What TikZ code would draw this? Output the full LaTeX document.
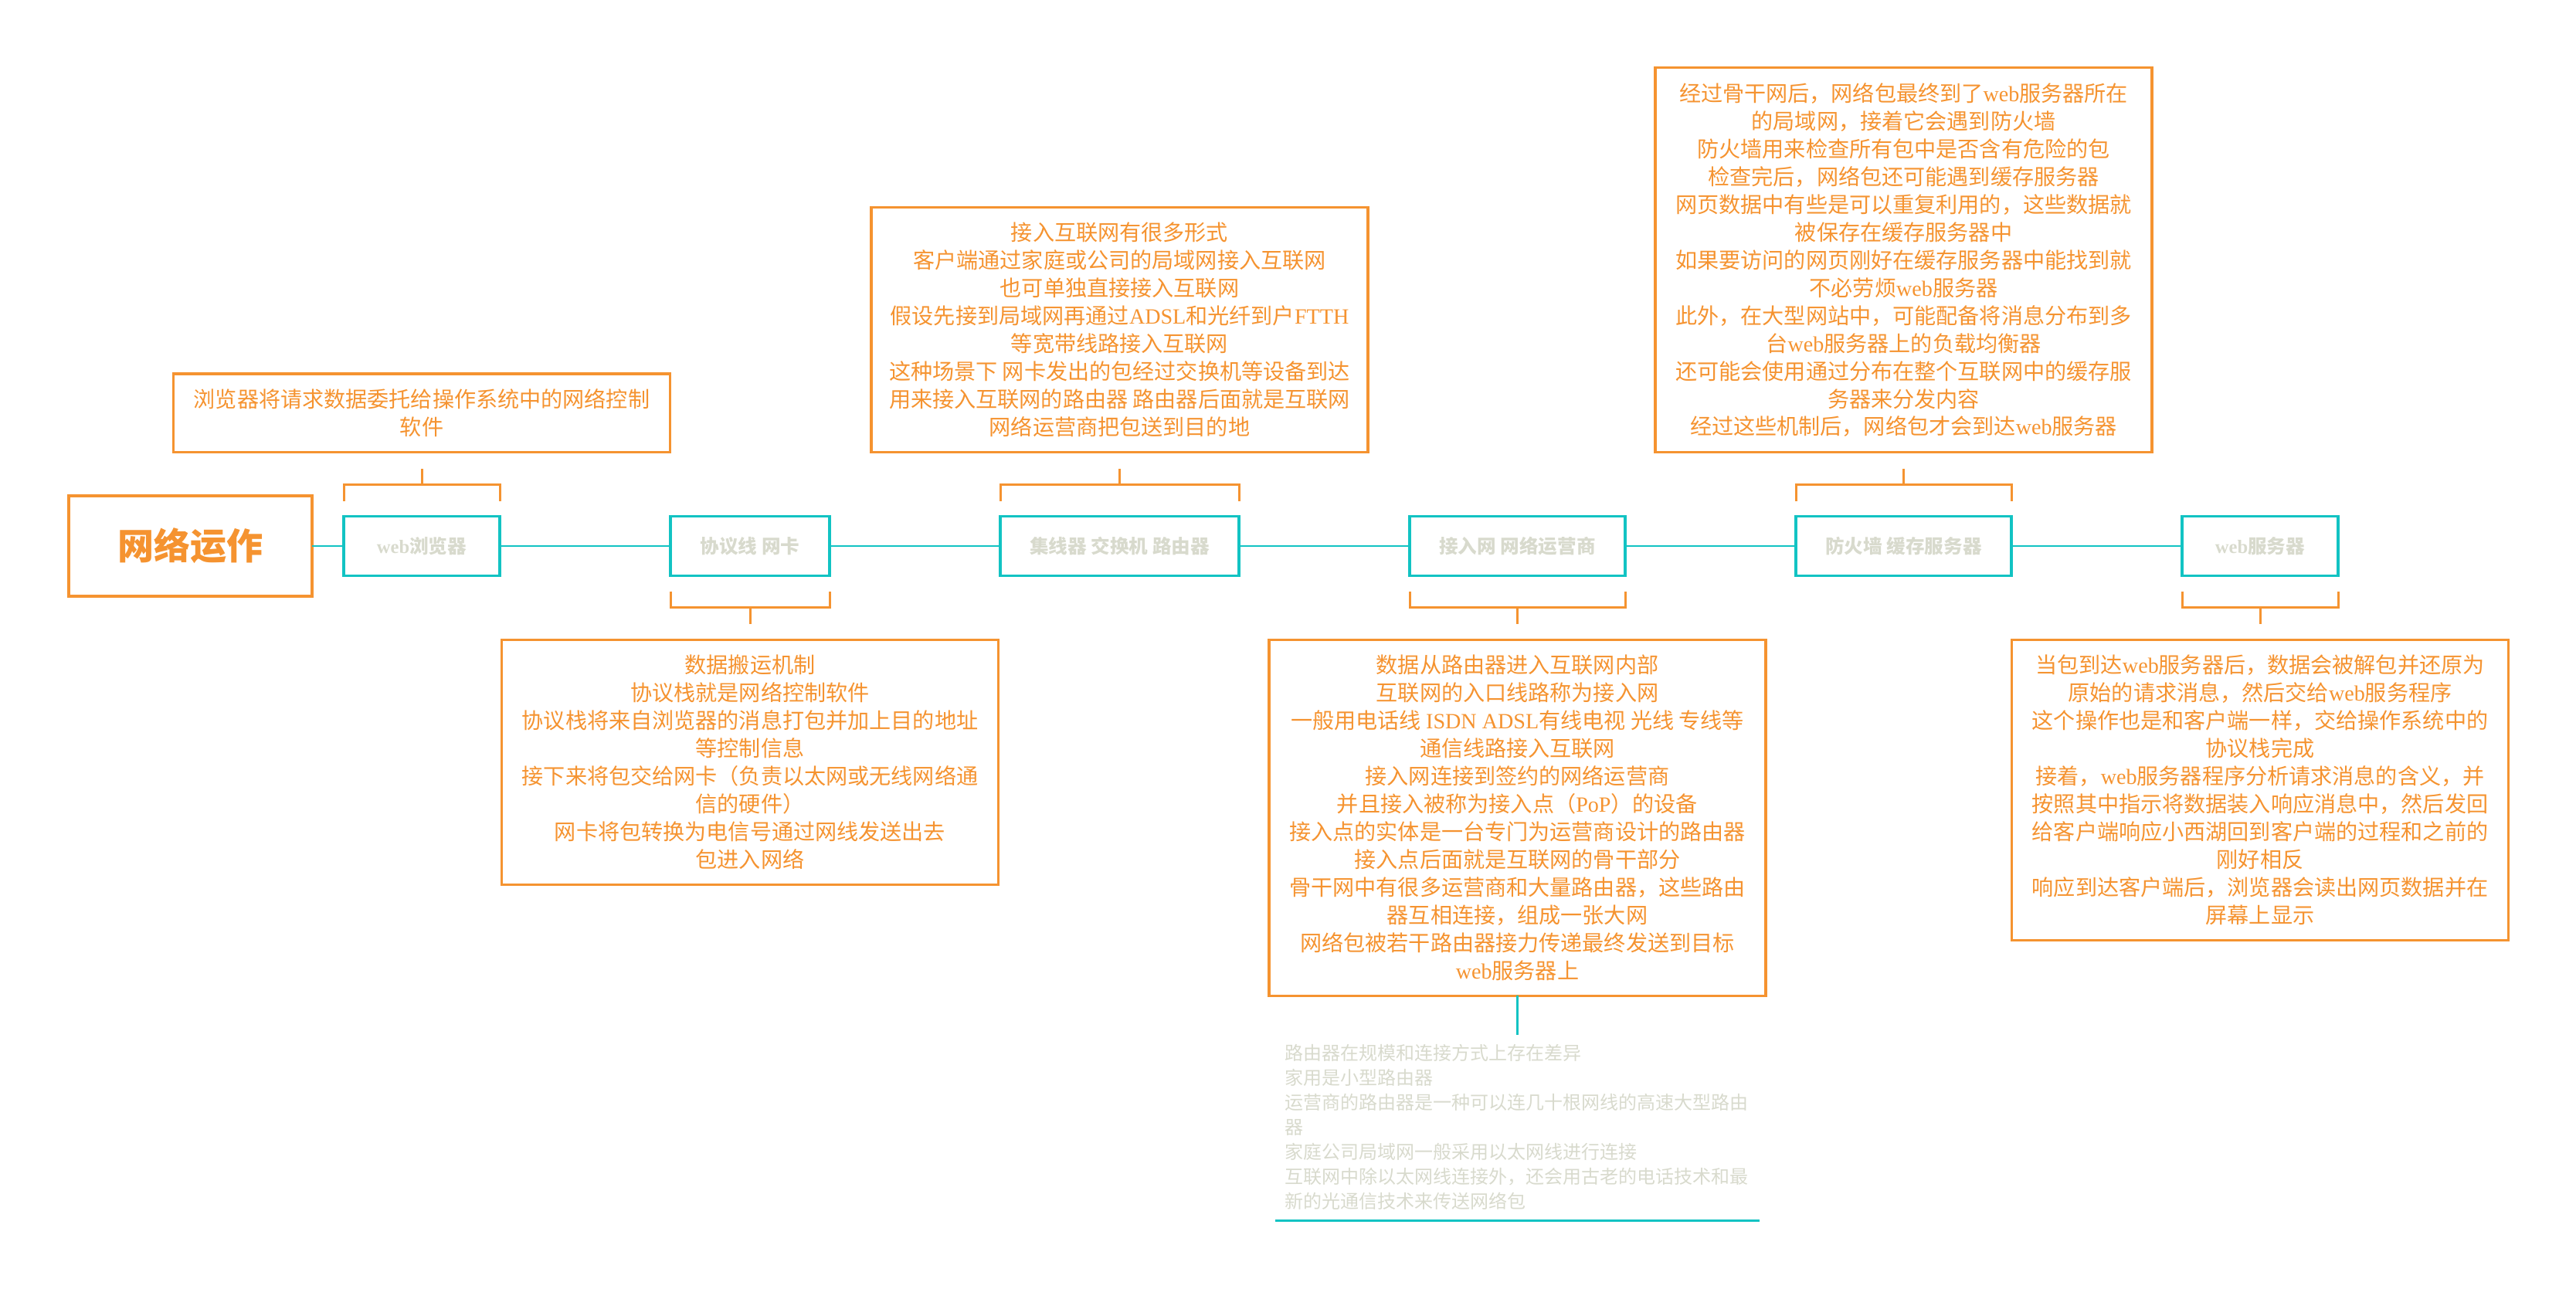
\documentclass[tikz,border=0pt]{standalone}
\usepackage{fontspec}
\setmainfont{Noto Sans CJK SC}
\newfontfamily\enfont{Liberation Serif}
\newcommand\en[1]{{\enfont #1}}
\usepackage{xcolor}
\usetikzlibrary{positioning}
\definecolor{orng}{HTML}{F59330}
\definecolor{cyn}{HTML}{12C3C3}
\definecolor{gry}{HTML}{D8DACD}

\begin{document}
\begin{tikzpicture}[
  node distance=2.21cm,
  root/.style={draw=orng, line width=1.3pt, outer sep=0pt, minimum width=3.15cm, minimum height=1.3cm,
    text=orng, font=\fontsize{13.4}{16}\selectfont\bfseries},
  topic/.style={draw=cyn, line width=1.1pt, outer sep=0pt, minimum height=0.77cm, inner xsep=0pt,
    text=gry, font=\fontsize{7}{8}\selectfont\bfseries},
  note/.style={draw=orng, line width=1pt, outer sep=0pt, minimum width=6.43cm, align=center, inner ysep=0.195cm,
    text=orng, font=\fontsize{8}{10.24}\selectfont},
  more/.style={text width=6.03cm, align=left, inner xsep=0.12cm, inner ysep=0.12cm, outer sep=0pt,
    text=gry, font=\fontsize{6.83}{9.1}\selectfont},
  spine/.style={draw=cyn, line width=0.7pt},
  brace/.style={draw=orng, line width=0.85pt}
]
\useasboundingbox (0,0) rectangle (33.35,-16.69);

% main line
\node[root] (net) at (2.465,-7.07) {网络运作};
\node[topic, minimum width=2.02cm, right=0.41cm of net] (browser) {\en{web}浏览器};
\node[topic, minimum width=2.06cm, right=of browser] (stack) {协议线 网卡};
\node[topic, minimum width=3.09cm, right=of stack] (router) {集线器 交换机 路由器};
\node[topic, minimum width=2.79cm, right=of router] (access) {接入网 网络运营商};
\node[topic, minimum width=2.79cm, right=of access] (firewall) {防火墙 缓存服务器};
\node[topic, minimum width=2.02cm, right=of firewall] (server) {\en{web}服务器};
\draw[spine] (net) -- (browser) -- (stack) -- (router) -- (access) -- (firewall) -- (server);

% notes
\node[note, above=0.83cm of browser] (browsernote) {浏览器将请求数据委托给操作系统中的网络控制\\软件};
\node[note, below=0.83cm of stack] (stacknote) {数据搬运机制\\协议栈就是网络控制软件\\协议栈将来自浏览器的消息打包并加上目的地址\\等控制信息\\接下来将包交给网卡（负责以太网或无线网络通\\信的硬件）\\网卡将包转换为电信号通过网线发送出去\\包进入网络};
\node[note, above=0.83cm of router] (routernote) {接入互联网有很多形式\\客户端通过家庭或公司的局域网接入互联网\\也可单独直接接入互联网\\假设先接到局域网再通过\en{ADSL}和光纤到户\en{FTTH}\\等宽带线路接入互联网\\这种场景下 网卡发出的包经过交换机等设备到达\\用来接入互联网的路由器 路由器后面就是互联网\\网络运营商把包送到目的地};
\node[note, below=0.83cm of access] (accessnote) {数据从路由器进入互联网内部\\互联网的入口线路称为接入网\\一般用电话线 \en{ISDN ADSL}有线电视 光线 专线等\\通信线路接入互联网\\接入网连接到签约的网络运营商\\并且接入被称为接入点（\en{PoP}）的设备\\接入点的实体是一台专门为运营商设计的路由器\\接入点后面就是互联网的骨干部分\\骨干网中有很多运营商和大量路由器，这些路由\\器互相连接，组成一张大网\\网络包被若干路由器接力传递最终发送到目标\\\en{web}服务器上};
\node[note, above=0.83cm of firewall] (firewallnote) {经过骨干网后，网络包最终到了\en{web}服务器所在\\的局域网，接着它会遇到防火墙\\防火墙用来检查所有包中是否含有危险的包\\检查完后，网络包还可能遇到缓存服务器\\网页数据中有些是可以重复利用的，这些数据就\\被保存在缓存服务器中\\如果要访问的网页刚好在缓存服务器中能找到就\\不必劳烦\en{web}服务器\\此外，在大型网站中，可能配备将消息分布到多\\台\en{web}服务器上的负载均衡器\\还可能会使用通过分布在整个互联网中的缓存服\\务器来分发内容\\经过这些机制后，网络包才会到达\en{web}服务器};
\node[note, below=0.83cm of server] (servernote) {当包到达\en{web}服务器后，数据会被解包并还原为\\原始的请求消息，然后交给\en{web}服务程序\\这个操作也是和客户端一样，交给操作系统中的\\协议栈完成\\接着，\en{web}服务器程序分析请求消息的含义，并\\按照其中指示将数据装入响应消息中，然后发回\\给客户端响应小西湖回到客户端的过程和之前的\\刚好相反\\响应到达客户端后，浏览器会读出网页数据并在\\屏幕上显示};
\node[more, below=0.51cm of accessnote] (accessmore) {路由器在规模和连接方式上存在差异\\家用是小型路由器\\运营商的路由器是一种可以连几十根网线的高速大型路由\\器\\家庭公司局域网一般采用以太网线进行连接\\互联网中除以太网线连接外，还会用古老的电话技术和最\\新的光通信技术来传送网络包};

% brackets
\draw[brace] ([yshift=2mm]browser.north west) |- ([yshift=4.1mm]browser.north) -| ([yshift=2mm]browser.north east);
\draw[brace] ([yshift=4.1mm]browser.north) -- ([yshift=-2.1mm]browsernote.south);
\draw[brace] ([yshift=-2mm]stack.south west) |- ([yshift=-4.1mm]stack.south) -| ([yshift=-2mm]stack.south east);
\draw[brace] ([yshift=-4.1mm]stack.south) -- ([yshift=2.1mm]stacknote.north);
\draw[brace] ([yshift=2mm]router.north west) |- ([yshift=4.1mm]router.north) -| ([yshift=2mm]router.north east);
\draw[brace] ([yshift=4.1mm]router.north) -- ([yshift=-2.1mm]routernote.south);
\draw[brace] ([yshift=-2mm]access.south west) |- ([yshift=-4.1mm]access.south) -| ([yshift=-2mm]access.south east);
\draw[brace] ([yshift=-4.1mm]access.south) -- ([yshift=2.1mm]accessnote.north);
\draw[brace] ([yshift=2mm]firewall.north west) |- ([yshift=4.1mm]firewall.north) -| ([yshift=2mm]firewall.north east);
\draw[brace] ([yshift=4.1mm]firewall.north) -- ([yshift=-2.1mm]firewallnote.south);
\draw[brace] ([yshift=-2mm]server.south west) |- ([yshift=-4.1mm]server.south) -| ([yshift=-2mm]server.south east);
\draw[brace] ([yshift=-4.1mm]server.south) -- ([yshift=2.1mm]servernote.north);

% extra text under the access note
\draw[spine] (accessnote) -- (accessmore);
\draw[spine] ([yshift=-0.2mm]accessmore.south west) -- ([yshift=-0.2mm]accessmore.south east);
\end{tikzpicture}
\end{document}
